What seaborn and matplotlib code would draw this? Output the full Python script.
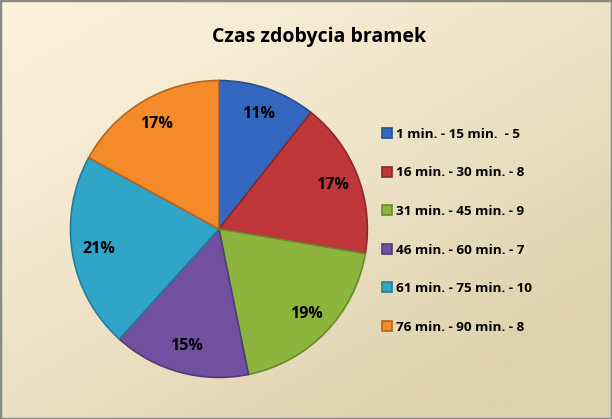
import matplotlib
matplotlib.use("Agg")
import matplotlib.pyplot as plt
import seaborn as sns
import numpy as np
from matplotlib.patches import Rectangle

# data
categories = ["1 min. - 15 min.  - 5", "16 min. - 30 min. - 8", "31 min. - 45 min. - 9",
              "46 min. - 60 min. - 7", "61 min. - 75 min. - 10", "76 min. - 90 min. - 8"]
goals = [5, 8, 9, 7, 10, 8]
slice_colors = ["#3468C0", "#C0373A", "#8DB43C", "#7150A0", "#30A5C8", "#F58A2A"]
edge_colors = ["#24508F", "#8E2628", "#6A8A2A", "#533A78", "#237C98", "#B8641A"]

sns.set_theme(style="white")
plt.rcParams["font.family"] = ["Open Sans", "DejaVu Sans"]

fig = plt.figure(figsize=(6.12, 4.19), dpi=100)

# gradient background
bg = fig.add_axes([0, 0, 1, 1], zorder=-10)
gx, gy = np.meshgrid(np.linspace(0, 1, 200), np.linspace(0, 1, 200))
t = np.clip(0.55 * gx + 0.65 * gy, 0, 1) ** 1.3
top = np.array([252, 242, 220]) / 255
bottom = np.array([222, 210, 175]) / 255
img = top[None, None, :] * (1 - t[..., None]) + bottom[None, None, :] * t[..., None]
bg.imshow(img, aspect="auto", extent=[0, 1, 0, 1], origin="upper")
bg.axis("off")

ax = fig.add_axes([0.1127, 0.0955, 0.490, 0.716])
wedges, texts, autotexts = ax.pie(
    goals, colors=sns.color_palette(slice_colors), startangle=90, counterclock=False,
    autopct="%1.0f%%", pctdistance=0.82,
    wedgeprops=dict(linewidth=1.2),
    textprops=dict(fontsize=11.5, fontweight="bold", color="black"))
for w, ec in zip(wedges, edge_colors):
    w.set_edgecolor(ec)
ax.set_xlim(-1.01, 1.01)
ax.set_ylim(-1.01, 1.01)
ax.set_aspect("equal")

fig.text(0.522, 0.912, "Czas zdobycia bramek", ha="center", va="center",
         fontsize=14, fontweight="bold", color="black")

leg = fig.legend(wedges, categories, loc="upper left", bbox_to_anchor=(0.615, 0.708),
                 frameon=False, prop=dict(size=9.7, weight="bold"), labelcolor="black",
                 handlelength=0.75, handleheight=0.75, handletextpad=0.3,
                 labelspacing=1.9, borderaxespad=0)

fig.patches.append(Rectangle((0, 0), 1, 1, transform=fig.transFigure, fill=False,
                             edgecolor="#8A8A84", linewidth=2.5))

fig.savefig("out.png", dpi=100)
